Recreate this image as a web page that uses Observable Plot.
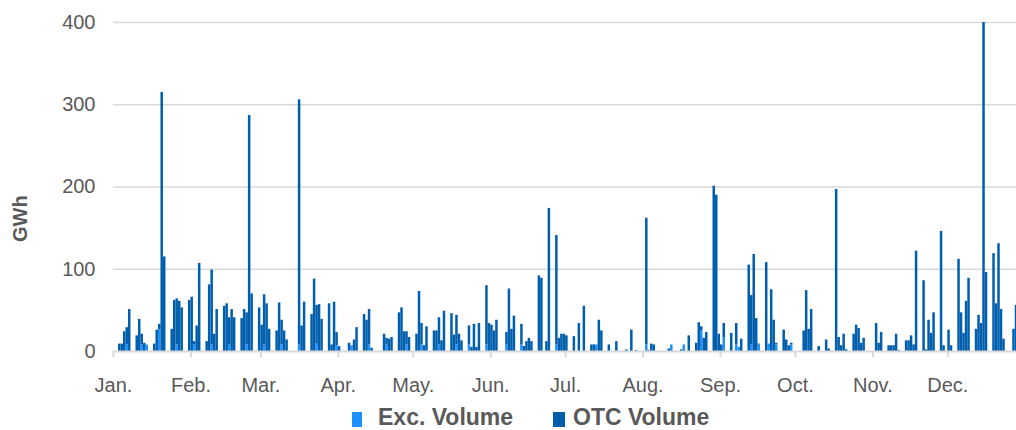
<!DOCTYPE html>
<html><head><meta charset="utf-8">
<script src="https://cdn.jsdelivr.net/npm/d3@7"></script>
<script src="https://cdn.jsdelivr.net/npm/@observablehq/plot@0.6"></script>
<style>
body{margin:0;background:#fff;font-family:"Liberation Sans",Arial,sans-serif;overflow:hidden;}
#chart{width:1016px;height:400px;}
#legend{position:relative;width:1016px;height:30px;}
#legend .sw{position:absolute;top:12px;width:10px;height:15px;}
#legend .lab{position:absolute;top:7px;font-weight:bold;font-size:23px;line-height:20px;color:#595959;white-space:nowrap;}
</style>
</head><body>
<div id="chart"></div>
<div id="legend">
  <span class="sw" style="left:352px;background:#1E90FF"></span><span class="lab" style="left:378px">Exc. Volume</span>
  <span class="sw" style="left:553px;width:12px;background:#005EAD"></span><span class="lab" style="left:573px">OTC Volume</span>
</div>
<script>
const year = 2022;
const monthLabels = ["Jan.","Feb.","Mar.","Apr.","May.","Jun.","Jul.","Aug.","Sep.","Oct.","Nov.","Dec."];
const yTicks = [0,100,200,300,400];
const seriesNames = ["Exc. Volume","OTC Volume"];

// OTC Volume (GWh), one value per weekday of each month
const otcJan = [9,9,24,21,51, 19,39,13,10,0, 9,26,7,315,115, 27,62,56,61,53, 62];
const otcFeb = [66,4,31,107, 12,81,91,21,51, 55,58,33,51,41, 40,51,39,287,70, 53];
const otcMar = [32,61,58,27, 25,59,30,25,14, 0,0,298,31,60, 45,88,47,57,39, 58,8,60,16];
const otcApr = [6, 0,10,0,14,29, 45,38,43,4,0, 0,21,8,15,17, 47,53,24,16,17];
const otcMay = [21,73,26,7,30, 25,25,33,13,49, 46,20,36,21,13, 23,5,33,5,34, 72,34];
const otcJun = [32,25,38, 0,15,76,27,43, 25,6,12,16,12, 92,89,0,12,174, 133,16,21,21];
const otcJul = [19, 18,0,34,0,55, 8,8,0,38,25, 8,0,0,12,0, 2,0,26,0,1];
const otcAug = [0,154,1,9,8, 0,0,0,3,0, 0,2,0,0,19, 10,35,5,16,23, 201,190,21];
const otcSep = [8,17, 22,0,26,0,15, 105,60,118,40,1, 108,0,75,38,2, 26,14,7,2,0];
const otcOct = [0,25,74,27,51, 6,0,0,14,3, 197,17,7,21,2, 21,32,28,10,16, 0];
const otcNov = [0,34,10,23, 7,7,7,21,1, 13,13,19,8,122, 86,2,38,22,47, 146,7,0];
const otcDec = [26,7, 112,47,22,61,89, 27,44,34,400,96, 119,58,131,51,15, 0,27,56];

// Exc. Volume (GWh), one value per weekday of each month
const excJan = [0,0,0,8,0, 0,0,8,0,8, 0,0,26,0,0, 0,0,8,0,0, 0];
const excFeb = [0,8,0,0, 0,0,8,0,0, 0,0,8,0,0, 0,0,8,0,0, 0];
const excMar = [0,8,0,0, 0,0,8,0,0, 0,0,8,0,0, 0,0,9,0,0, 0,0,0,7];
const excApr = [0, 0,0,7,0,0, 0,0,8,0,0, 0,0,8,0,0, 0,0,0,8,0];
const excMay = [0,0,8,0,0, 0,0,8,0,0, 0,0,8,0,0, 8,0,0,0,0, 8,0];
const excJun = [0,0,0, 0,8,0,0,0, 8,0,0,0,0, 0,0,0,0,0, 8,0,0,0];
const excJul = [0, 0,0,0,0,0, 0,0,8,0,0, 0,0,0,0,0, 0,0,0,0,0];
const excAug = [0,8,0,0,0, 0,0,0,0,8, 0,0,8,0,0, 0,0,25,0,0, 0,0,0];
const excSep = [0,17, 0,0,8,5,0, 0,8,0,0,8, 0,9,0,0,8, 0,0,0,8,0];
const excOct = [];
const excNov = [];
const excDec = [];

const otcByMonth = [otcJan,otcFeb,otcMar,otcApr,otcMay,otcJun,otcJul,otcAug,otcSep,otcOct,otcNov,otcDec];
const excByMonth = [excJan,excFeb,excMar,excApr,excMay,excJun,excJul,excAug,excSep,excOct,excNov,excDec];

function weekdays(m) {
  const out = [];
  for (let d = new Date(Date.UTC(year, m, 1)); d.getUTCMonth() === m; d = new Date(d.getTime() + 864e5)) {
    const w = d.getUTCDay();
    if (w > 0 && w < 6) out.push(d);
  }
  return out;
}

const rows = [];
for (let m = 0; m < 12; m++) {
  const days = weekdays(m);
  excByMonth[m].forEach((v, i) => rows.push({date: days[i], series: seriesNames[0], value: v}));
  otcByMonth[m].forEach((v, i) => rows.push({date: days[i], series: seriesNames[1], value: v}));
}

const monthStarts = d3.range(12).map(m => new Date(Date.UTC(year, m, 1)));

const chart = Plot.plot({
  width: 1016,
  height: 400,
  marginLeft: 113,
  marginRight: 0,
  marginTop: 22,
  marginBottom: 49,
  style: {fontFamily: "'Liberation Sans', Arial, sans-serif", background: "#fff"},
  x: {type: "utc", domain: [new Date(Date.UTC(year,0,1)), new Date(Date.UTC(year,11,28,12))]},
  y: {domain: [0, 400]},
  color: {domain: seriesNames, range: ["#1E90FF", "#005EAD"]},
  marks: [
    Plot.gridY(yTicks.filter(d => d > 0), {stroke: "#d9d9d9", strokeOpacity: 1, strokeWidth: 1.5}),
    Plot.rectY(rows, {x: "date", interval: d3.utcDay, y: "value", fill: "series", order: seriesNames, inset: 0, clip: true}),
    Plot.ruleY([0], {stroke: "#d9d9d9", strokeWidth: 2}),
    Plot.axisY({ticks: yTicks, tickSize: 0, tickPadding: 18, fontSize: 20, fill: "#595959", label: null}),
    Plot.axisX({ticks: monthStarts, tickFormat: d => monthLabels[d.getUTCMonth()], tickSize: 6, tickPadding: 20, stroke: "#d9d9d9", strokeWidth: 2, fill: "#595959", fontSize: 20, label: null}),
    Plot.text(["GWh"], {frameAnchor: "left", dx: -93, dy: 55, rotate: -90, fontWeight: "bold", fontSize: 20, fill: "#595959"})
  ]
});
document.getElementById("chart").appendChild(chart);
</script>
</body></html>
